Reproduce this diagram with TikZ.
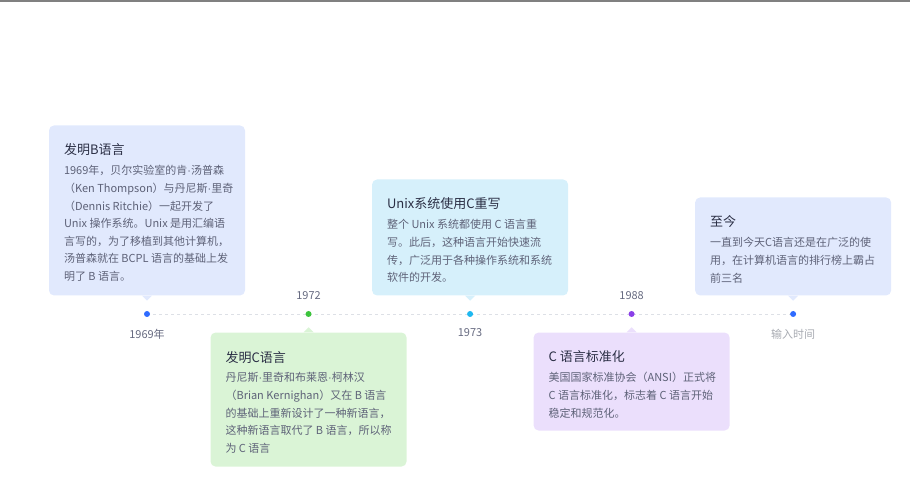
\documentclass[tikz,border=0pt]{standalone}
\usepackage{fontspec}
\setmainfont{Noto Sans CJK SC}
\newfontfamily\latinfont{Liberation Sans}
\usetikzlibrary{positioning, backgrounds}

\definecolor{bluecard}{HTML}{E1E9FD}
\definecolor{greencard}{HTML}{DAF4D6}
\definecolor{cyancard}{HTML}{D6F0FB}
\definecolor{purplecard}{HTML}{EBDFFC}
\definecolor{bluedot}{HTML}{2F6BFF}
\definecolor{greendot}{HTML}{3CC43C}
\definecolor{cyandot}{HTML}{1EB8F0}
\definecolor{purpledot}{HTML}{8A3FE8}
\definecolor{titlegray}{HTML}{2B2F45}
\definecolor{bodygray}{HTML}{5E6278}
\definecolor{yeargray}{HTML}{666A80}
\definecolor{hintgray}{HTML}{A8ABB2}
\definecolor{linegray}{HTML}{DDE0E6}

\newcommand{\px}{0.75pt}
\newcommand{\mdot}{{\latinfont ·}}
% small pointer below / above a card
\newcommand{\tipdown}[2]{\fill[#1] ([xshift=-5*\px]#2.south) -- ([yshift=-5*\px]#2.south) -- ([xshift=5*\px]#2.south) -- cycle;}
\newcommand{\tipup}[2]{\fill[#1] ([xshift=-5*\px]#2.north) -- ([yshift=5*\px]#2.north) -- ([xshift=5*\px]#2.north) -- cycle;}

\begin{document}
\begin{tikzpicture}[
        x=0.75pt, y=-0.75pt,
        dot/.style={circle, fill=#1, inner sep=0pt, minimum size=4.5pt},
        card/.style={rectangle, rounded corners=3.75pt, fill=#1, minimum width=147pt, inner sep=0pt},
        cardtitle/.style={font=\fontsize{9.75}{12}\selectfont, text=titlegray, inner sep=0pt, anchor=north west},
        cardtext/.style={font=\fontsize{8.25}{13.2}\selectfont, text=bodygray, inner sep=0pt, align=left},
        year/.style={font=\fontsize{8.25}{10}\selectfont, text=yeargray, inner sep=0pt}
    ]
        \useasboundingbox (0,0) rectangle (910,498);
        \draw[line width=1.2pt, gray] (0,0.8) -- (910,0.8);

        % time axis
        \node (d1) [dot=bluedot] at (147,314) {};
        \node (d2) [dot=greendot, right=116.25pt of d1] {};
        \node (d3) [dot=cyandot, right=116.25pt of d2] {};
        \node (d4) [dot=purpledot, right=116.25pt of d3] {};
        \node (d5) [dot=bluedot, right=116.25pt of d4] {};
        \begin{pgfonlayer}{background}
            \draw[linegray, line width=0.6pt, dash pattern=on 2.5pt off 2pt] (d1.center) -- (d5.center);
        \end{pgfonlayer}

        \node (y1) [year, below=8.5pt of d1] {1969年};
        \node (y2) [year, above=8pt of d2] {1972};
        \node (y3) [year, below=8.5pt of d3] {1973};
        \node (y4) [year, above=8pt of d4] {1988};
        \node (y5) [year, text=hintgray, below=8.5pt of d5] {输入时间};

        % cards
        \node (c1) [card=bluecard, minimum height=170*\px, above=11.25pt of d1] {};
        \node (c2) [card=greencard, minimum height=134*\px, below=11.25pt of d2] {};
        \node (c3) [card=cyancard, minimum height=116*\px, above=11.25pt of d3] {};
        \node (c4) [card=purplecard, minimum height=98*\px, below=11.25pt of d4] {};
        \node (c5) [card=bluecard, minimum height=98*\px, above=11.25pt of d5] {};
        \tipdown{bluecard}{c1}
        \tipup{greencard}{c2}
        \tipdown{cyancard}{c3}
        \tipup{purplecard}{c4}
        \tipdown{bluecard}{c5}

        \node (t1) [cardtitle] at ([shift={(15,18.5)}]c1.north west) {发明B语言};
        \node (b1) [cardtext, below=6.75pt of t1.south west, anchor=north west] {1969年，贝尔实验室的肯\mdot 汤普森\\（Ken Thompson）与丹尼斯\mdot 里奇\\（Dennis Ritchie）一起开发了\\Unix 操作系统。Unix 是用汇编语\\言写的，为了移植到其他计算机，\\汤普森就在 BCPL 语言的基础上发\\明了 B 语言。};

        \node (t2) [cardtitle] at ([shift={(15,18.5)}]c2.north west) {发明C语言};
        \node (b2) [cardtext, below=6.75pt of t2.south west, anchor=north west] {丹尼斯\mdot 里奇和布莱恩\mdot 柯林汉\\（Brian Kernighan）又在 B 语言\\的基础上重新设计了一种新语言，\\这种新语言取代了 B 语言，所以称\\为 C 语言};

        \node (t3) [cardtitle] at ([shift={(15,18.5)}]c3.north west) {Unix系统使用C重写};
        \node (b3) [cardtext, below=6.75pt of t3.south west, anchor=north west] {整个 Unix 系统都使用 C 语言重\\写。此后，这种语言开始快速流\\传，广泛用于各种操作系统和系统\\软件的开发。};

        \node (t4) [cardtitle] at ([shift={(15,18.5)}]c4.north west) {C 语言标准化};
        \node (b4) [cardtext, below=6.75pt of t4.south west, anchor=north west] {美国国家标准协会（ANSI）正式将\\C 语言标准化，标志着 C 语言开始\\稳定和规范化。};

        \node (t5) [cardtitle] at ([shift={(15,18.5)}]c5.north west) {至今};
        \node (b5) [cardtext, below=6.75pt of t5.south west, anchor=north west] {一直到今天C语言还是在广泛的使\\用，在计算机语言的排行榜上霸占\\前三名};
    \end{tikzpicture}
\end{document}
